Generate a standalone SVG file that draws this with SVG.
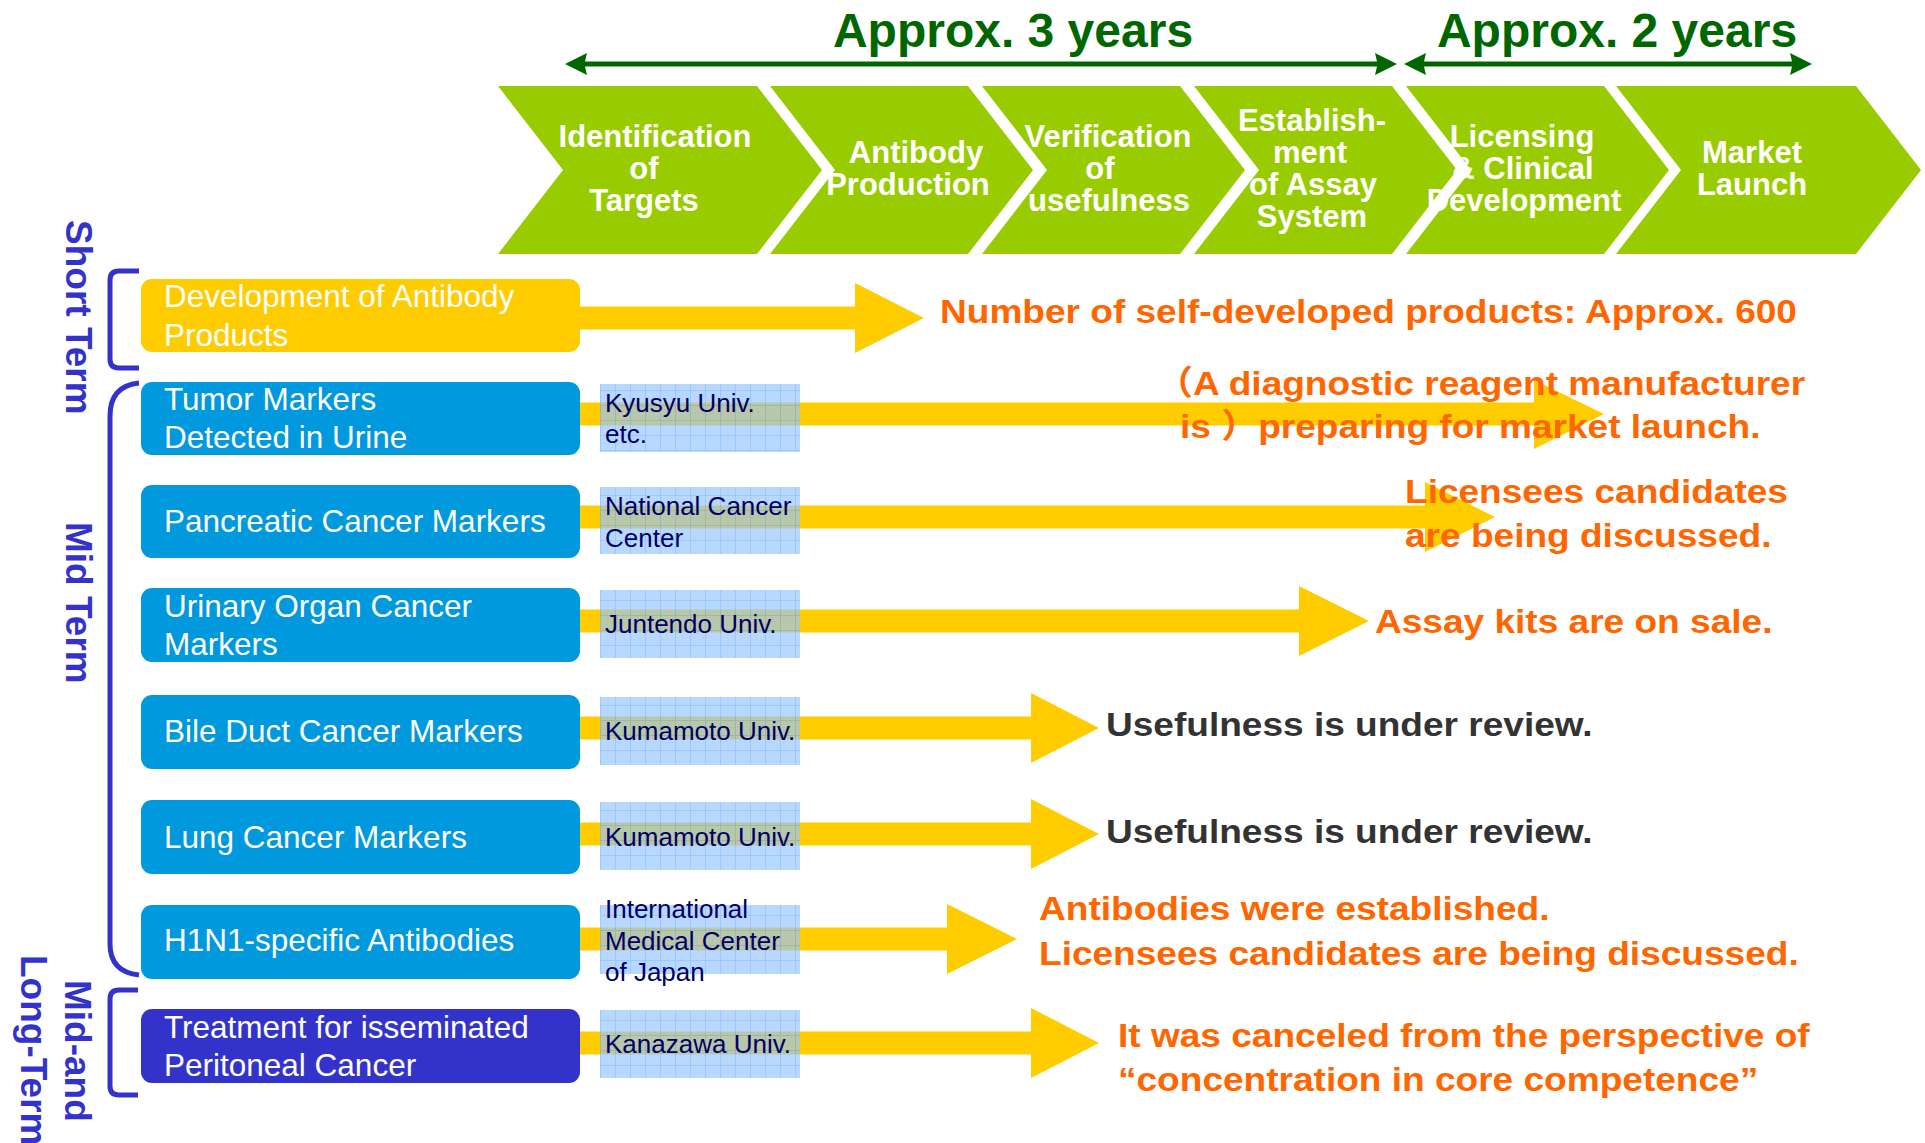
<svg xmlns="http://www.w3.org/2000/svg" width="1925" height="1143" viewBox="0 0 1925 1143">
  <defs>
    <style>
      text { font-family: "Liberation Sans", Arial, "Noto Sans CJK JP", sans-serif; }
      .chev { fill: #99CC00; }
      .ct { font-size: 31px; font-weight: bold; fill: #FFFFFF; text-anchor: middle; }
      .box { fill: #0099DD; }
      .box.gold { fill: #FFCC00; }
      .box.violet { fill: #3333CC; }
      .bt { font-size: 31.5px; fill: #FFFFFF; }
      .uni { fill: url(#grid); fill-opacity: 0.67; }
      .ut { font-size: 26px; fill: #000066; }
      .res { font-size: 34px; font-weight: bold; fill: #FF6600; }
      .res.gray { fill: #333333; }
      .span { fill: #006600; }
      .spant { font-size: 48px; font-weight: bold; fill: #006600; text-anchor: middle; }
      .term { font-size: 37px; font-weight: bold; fill: #3333CC; }
      .brace { fill: none; stroke: #3333CC; stroke-width: 5; stroke-linecap: butt; }
      .arrow { fill: #FFCC00; }
    </style>
    <pattern id="grid" width="15" height="15" patternUnits="userSpaceOnUse" x="600" y="0">
      <rect width="15" height="15" fill="#96C5FF"/>
      <path d="M0,7.5 H15 M7.5,0 V15" stroke="#90C2FF" stroke-width="1"/>
      <path d="M0.5,0 V15 M0,0.5 H15" stroke="#6AAEFF" stroke-width="1"/>
    </pattern>
  </defs>

  <rect width="1925" height="1143" fill="#FFFFFF"/>

  <!-- duration spans -->
  <g id="spans">
    <polygon class="span" points="565,64 587,53 585,61.5 1377,61.5 1375,53 1397,64 1375,75 1377,66.5 585,66.5 587,75"/>
    <polygon class="span" points="1404,64 1426,53 1424,61.5 1792,61.5 1790,53 1812,64 1790,75 1792,66.5 1424,66.5 1426,75"/>
    <text class="spant" x="1013" y="47">Approx. 3 years</text>
    <text class="spant" x="1617" y="47">Approx. 2 years</text>
  </g>

  <!-- process stages -->
  <g id="stage-targets">
    <polygon class="chev" points="498,86 757,86 822,170 757,254 498,254 563,170"/>
    <text class="ct" x="655" y="147">Identification</text>
    <text class="ct" x="644" y="179">of</text>
    <text class="ct" x="644" y="211">Targets</text>
  </g>
  <g id="stage-antibody">
    <polygon class="chev" points="770,86 968,86 1033,170 968,254 770,254 835,170"/>
    <text class="ct" x="916" y="163">Antibody</text>
    <text class="ct" x="908" y="195">Production</text>
  </g>
  <g id="stage-verification">
    <polygon class="chev" points="982,86 1180,86 1245,170 1180,254 982,254 1047,170"/>
    <text class="ct" x="1108" y="147">Verification</text>
    <text class="ct" x="1100" y="179">of</text>
    <text class="ct" x="1109" y="211">usefulness</text>
  </g>
  <g id="stage-assay">
    <polygon class="chev" points="1194,86 1392,86 1457,170 1392,254 1194,254 1259,170"/>
    <text class="ct" x="1312" y="131">Establish-</text>
    <text class="ct" x="1310" y="163">ment</text>
    <text class="ct" x="1313" y="195">of Assay</text>
    <text class="ct" x="1312" y="227">System</text>
  </g>
  <g id="stage-licensing">
    <polygon class="chev" points="1406,86 1604,86 1669,170 1604,254 1406,254 1471,170"/>
    <text class="ct" x="1522" y="147">Licensing</text>
    <text class="ct" x="1523" y="179">&amp; Clinical</text>
    <text class="ct" x="1524" y="211">Development</text>
  </g>
  <g id="stage-launch">
    <polygon class="chev" points="1616,86 1856,86 1921,170 1856,254 1616,254 1681,170"/>
    <text class="ct" x="1752" y="163">Market</text>
    <text class="ct" x="1752" y="195">Launch</text>
  </g>

  <!-- term labels and braces -->
  <g id="term-short">
    <path class="brace" d="M139,271 H119 Q110,271 110,280 V359 Q110,368 119,368 H139"/>
    <text class="term" transform="translate(66,220) rotate(90)">Short Term</text>
  </g>
  <g id="term-mid">
    <path class="brace" d="M139,383 Q110,386 110,416 V944 Q110,972 139,975"/>
    <text class="term" transform="translate(66,522) rotate(90)">Mid Term</text>
  </g>
  <g id="term-long">
    <path class="brace" d="M138,990 H119 Q110,990 110,999 V1086 Q110,1095 119,1095 H138"/>
    <text class="term" transform="translate(65,980) rotate(90)">Mid-and</text>
    <text class="term" transform="translate(21,955) rotate(90)">Long-Term</text>
  </g>

  <!-- connectors: progress arrows from each theme -->
  <g id="connectors">
    <polygon class="arrow" points="580,306.5 855,306.5 855,283 924,318 855,353 855,329.5 580,329.5"/>
    <polygon class="arrow" points="580,402.5 1534,402.5 1534,380 1604,414 1534,449 1534,425.5 580,425.5"/>
    <polygon class="arrow" points="580,505.5 1425,505.5 1425,482 1495,517 1425,552 1425,528.5 580,528.5"/>
    <polygon class="arrow" points="580,609.5 1299,609.5 1299,586 1369,621 1299,656 1299,632.5 580,632.5"/>
    <polygon class="arrow" points="580,716.5 1031,716.5 1031,693 1099,728 1031,763 1031,739.5 580,739.5"/>
    <polygon class="arrow" points="580,822.5 1031,822.5 1031,799 1099,834 1031,869 1031,845.5 580,845.5"/>
    <polygon class="arrow" points="580,927.5 947,927.5 947,904 1017,939 947,974 947,950.5 580,950.5"/>
    <polygon class="arrow" points="580,1031.5 1031,1031.5 1031,1008 1099,1043 1031,1078 1031,1054.5 580,1054.5"/>
  </g>

  <!-- themes -->
  <g id="theme-antibody-products">
    <rect class="box gold" x="141" y="279" width="439" height="73" rx="11"/>
    <text class="bt" x="164" y="307">Development of Antibody</text>
    <text class="bt" x="164" y="346">Products</text>
  </g>
  <g id="theme-urine">
    <rect class="box" x="141" y="382" width="439" height="73" rx="11"/>
    <text class="bt" x="164" y="410">Tumor Markers</text>
    <text class="bt" x="164" y="448">Detected in Urine</text>
  </g>
  <g id="theme-pancreatic">
    <rect class="box" x="141" y="485" width="439" height="73" rx="11"/>
    <text class="bt" x="164" y="532">Pancreatic Cancer Markers</text>
  </g>
  <g id="theme-urinary">
    <rect class="box" x="141" y="588" width="439" height="74" rx="11"/>
    <text class="bt" x="164" y="617">Urinary Organ Cancer</text>
    <text class="bt" x="164" y="655">Markers</text>
  </g>
  <g id="theme-bile">
    <rect class="box" x="141" y="695" width="439" height="74" rx="11"/>
    <text class="bt" x="164" y="742">Bile Duct Cancer Markers</text>
  </g>
  <g id="theme-lung">
    <rect class="box" x="141" y="800" width="439" height="74" rx="11"/>
    <text class="bt" x="164" y="848">Lung Cancer Markers</text>
  </g>
  <g id="theme-h1n1">
    <rect class="box" x="141" y="905" width="439" height="74" rx="11"/>
    <text class="bt" x="164" y="951">H1N1-specific Antibodies</text>
  </g>
  <g id="theme-peritoneal">
    <rect class="box violet" x="141" y="1009" width="439" height="74" rx="11"/>
    <text class="bt" x="164" y="1038">Treatment for isseminated</text>
    <text class="bt" x="164" y="1076">Peritoneal Cancer</text>
  </g>

  <!-- partner institutions -->
  <g id="partner-kyusyu">
    <rect class="uni" x="600" y="384" width="200" height="68"/>
    <text class="ut" x="605" y="412">Kyusyu Univ.</text>
    <text class="ut" x="605" y="443">etc.</text>
  </g>
  <g id="partner-ncc">
    <rect class="uni" x="600" y="487" width="200" height="67"/>
    <text class="ut" x="605" y="515">National Cancer</text>
    <text class="ut" x="605" y="547">Center</text>
  </g>
  <g id="partner-juntendo">
    <rect class="uni" x="600" y="590" width="200" height="68"/>
    <text class="ut" x="605" y="633">Juntendo Univ.</text>
  </g>
  <g id="partner-kumamoto-bile">
    <rect class="uni" x="600" y="697" width="200" height="68"/>
    <text class="ut" x="605" y="740">Kumamoto Univ.</text>
  </g>
  <g id="partner-kumamoto-lung">
    <rect class="uni" x="600" y="802" width="200" height="68"/>
    <text class="ut" x="605" y="846">Kumamoto Univ.</text>
  </g>
  <g id="partner-ncgm">
    <rect class="uni" x="600" y="905" width="200" height="69"/>
    <text class="ut" x="605" y="918">International</text>
    <text class="ut" x="605" y="950">Medical Center</text>
    <text class="ut" x="605" y="981">of Japan</text>
  </g>
  <g id="partner-kanazawa">
    <rect class="uni" x="600" y="1010" width="200" height="68"/>
    <text class="ut" x="605" y="1053">Kanazawa Univ.</text>
  </g>

  <!-- outcomes -->
  <g id="result-antibody-products">
    <text class="res" transform="translate(940,323) scale(1.09,1)">Number of self-developed products: Approx. 600</text>
  </g>
  <g id="result-urine">
    <text class="res" transform="translate(1156,395) scale(1.09,1)">（A diagnostic reagent manufacturer</text>
    <text class="res" transform="translate(1180,438) scale(1.09,1)">is ）preparing for market launch.</text>
  </g>
  <g id="result-pancreatic">
    <text class="res" transform="translate(1405,503) scale(1.09,1)">Licensees candidates</text>
    <text class="res" transform="translate(1405,547) scale(1.09,1)">are being discussed.</text>
  </g>
  <g id="result-urinary">
    <text class="res" transform="translate(1375,633) scale(1.09,1)">Assay kits are on sale.</text>
  </g>
  <g id="result-bile">
    <text class="res gray" transform="translate(1106,736) scale(1.09,1)">Usefulness is under review.</text>
  </g>
  <g id="result-lung">
    <text class="res gray" transform="translate(1106,843) scale(1.09,1)">Usefulness is under review.</text>
  </g>
  <g id="result-h1n1">
    <text class="res" transform="translate(1039,920) scale(1.09,1)">Antibodies were established.</text>
    <text class="res" transform="translate(1039,965) scale(1.09,1)">Licensees candidates are being discussed.</text>
  </g>
  <g id="result-peritoneal">
    <text class="res" transform="translate(1118,1047) scale(1.09,1)">It was canceled from the perspective of</text>
    <text class="res" transform="translate(1118,1091) scale(1.09,1)">“concentration in core competence”</text>
  </g>
</svg>
